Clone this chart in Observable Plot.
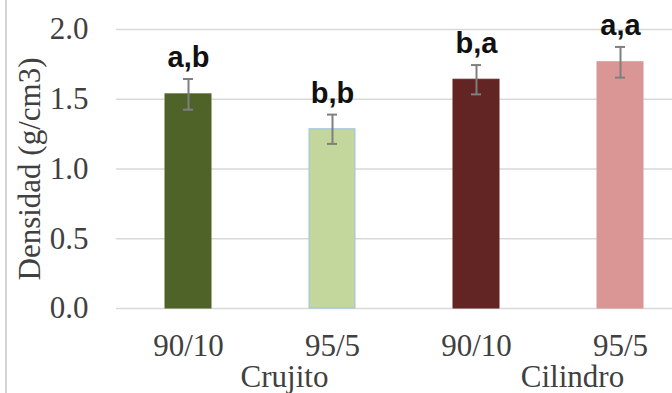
<!DOCTYPE html>
<html>
<head>
<meta charset="utf-8">
<script src="https://cdn.jsdelivr.net/npm/d3@7"></script>
<script src="https://cdn.jsdelivr.net/npm/@observablehq/plot@0.6"></script>
<style>
  html, body { margin: 0; padding: 0; background: #fff; }
  #wrap { position: relative; width: 672px; height: 393px; overflow: hidden; }
  #edge { position: absolute; left: 5px; top: 0; width: 2px; height: 393px; background: #d4d4d4; }
</style>
</head>
<body>
<div id="wrap"><div id="edge"></div></div>
<script>
const groups = ["Crujito", "Crujito", "Cilindro", "Cilindro"];
const ratios = ["90/10", "95/5", "90/10", "95/5"];
const means = [1.535, 1.285, 1.64, 1.765];
const errors = [0.11, 0.105, 0.105, 0.11];
const letters = ["a,b", "b,b", "b,a", "a,a"];
const colors = ["#4f6228", "#c3d69b", "#632523", "#d99694"];
const yTicks = [0, 0.5, 1.0, 1.5, 2.0];
const yLabel = "Densidad (g/cm3)";
const groupLabels = ["Crujito", "Cilindro"];

const data = ratios.map((r, i) => ({
  key: groups[i] + " " + r,
  ratio: r,
  mean: means[i],
  err: errors[i],
  letter: letters[i],
  color: colors[i]
}));
const keys = data.map(d => d.key);
// group labels anchored at the last bar of each group
const groupData = groupLabels.map(g => ({ label: g, key: keys[groups.lastIndexOf(g)] }));

const serif = "'Liberation Serif', 'Times New Roman', serif";
const sans = "'Liberation Sans', Arial, sans-serif";

const chart = Plot.plot({
  width: 672,
  height: 393,
  marginTop: 29,
  marginBottom: 85,
  marginLeft: 116,
  marginRight: 0,
  style: { background: "transparent", fontFamily: serif, color: "#404040", overflow: "visible" },
  x: { type: "band", domain: keys, range: [116, 692], paddingInner: 0.68, paddingOuter: 0.34 },
  y: { domain: [0, 2], ticks: yTicks },
  marks: [
    Plot.ruleY(yTicks, { stroke: "#d9d9d9", strokeWidth: 1.6 }),
    Plot.barY(data, {
      x: "key", y: "mean", fill: "color",
      stroke: d => d.color === "#c3d69b" ? "#9dc3e6" : d.color,
      strokeWidth: 1
    }),
    Plot.ruleX(data, { x: "key", y1: d => d.mean - d.err, y2: d => d.mean + d.err, stroke: "#7f7f7f", strokeWidth: 2 }),
    Plot.tickY(data, { x: "key", y: d => d.mean + d.err, stroke: "#7f7f7f", strokeWidth: 2, insetLeft: 18, insetRight: 18 }),
    Plot.tickY(data, { x: "key", y: d => d.mean - d.err, stroke: "#7f7f7f", strokeWidth: 2, insetLeft: 18, insetRight: 18 }),
    Plot.text(data, {
      x: "key", y: d => d.mean + d.err, text: "letter",
      lineAnchor: "bottom", dy: -12,
      fontFamily: sans, fontWeight: "bold", fontSize: 29, fill: "#111"
    }),
    Plot.axisY({
      ticks: yTicks, tickSize: 0, tickPadding: 28, tickFormat: d3.format(".1f"),
      label: null, fontSize: 31, fill: "#404040", fontFamily: serif
    }),
    Plot.axisX({
      tickSize: 0, tickPadding: 25, tickFormat: k => data.find(d => d.key === k).ratio,
      label: null, fontSize: 31, fill: "#404040", fontFamily: serif
    }),
    Plot.text([yLabel], {
      text: d => d, frameAnchor: "left", textAnchor: "middle", rotate: -90, dx: -86,
      lineAnchor: "middle", fontSize: 31, fill: "#404040", fontFamily: serif
    }),
    Plot.text(groupData, {
      x: "key", text: "label", frameAnchor: "bottom", lineAnchor: "bottom", dy: 78, dx: -48,
      fontSize: 31, fill: "#404040", fontFamily: serif
    })
  ]
});
document.getElementById("wrap").appendChild(chart);
</script>
</body>
</html>
